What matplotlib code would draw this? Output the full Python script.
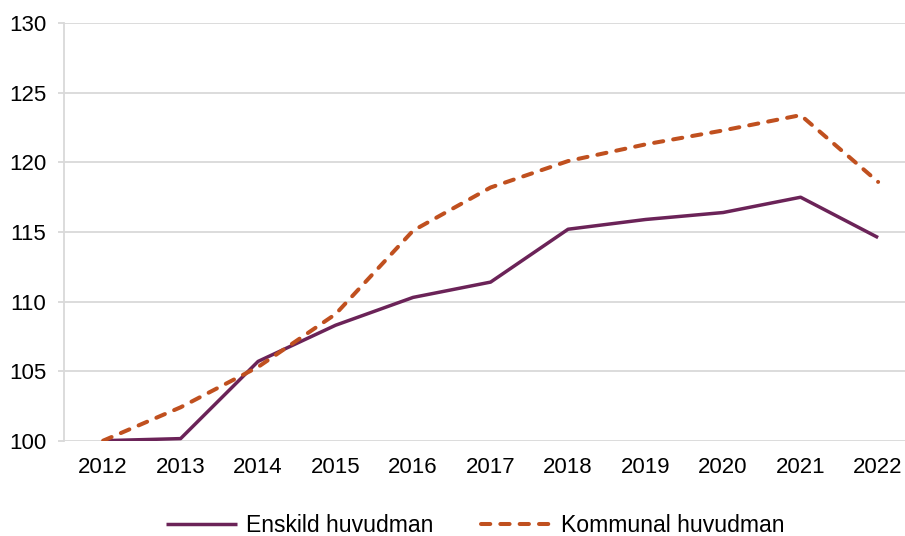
import matplotlib.pyplot as plt

plt.rcParams['font.family'] = ['Liberation Sans', 'DejaVu Sans']

years = ['2012', '2013', '2014', '2015', '2016', '2017', '2018', '2019', '2020', '2021', '2022']
enskild = [100, 100.15, 105.7, 108.3, 110.3, 111.4, 115.2, 115.9, 116.4, 117.5, 114.6]
kommunal = [100, 102.4, 105.3, 109.1, 115.1, 118.2, 120.1, 121.3, 122.3, 123.4, 118.6]

purple = '#6B2358'
orange = '#C0501F'
grid_col = '#D9D9D9'

fig = plt.figure(figsize=(9.05, 5.36), dpi=100)
ax = fig.add_axes([0.0711, 0.1778, 0.942, 0.7787])

x = range(len(years))
ax.plot(x, enskild, color=purple, lw=2.5, solid_capstyle='butt', label='Enskild huvudman')
ax.plot(x, kommunal, color=orange, lw=2.9, linestyle=(0, (2.3, 2.5)),
        dash_capstyle='round', label='Kommunal huvudman')

ax.set_xlim(-0.5, len(years) - 0.5)
ax.set_ylim(100, 130)
ax.set_yticks(range(100, 131, 5))
ax.set_xticks(list(x))
ax.set_xticklabels(years)

ax.grid(axis='y', color=grid_col, lw=1.3)
ax.set_axisbelow(True)
for s in ['top', 'right', 'bottom']:
    ax.spines[s].set_visible(False)
ax.spines['left'].set_color(grid_col)
ax.spines['left'].set_linewidth(1.3)
ax.tick_params(axis='y', length=4.3, color=grid_col, width=1.3, labelsize=16, pad=8.7)
ax.tick_params(axis='x', length=0, labelsize=16, pad=12)

ax.legend(loc='center', bbox_to_anchor=(0.482, -0.203), ncol=2, frameon=False,
          fontsize=16.6, handlelength=3.1, handletextpad=0.36, columnspacing=2.1)

fig.savefig('out.png', dpi=100)
